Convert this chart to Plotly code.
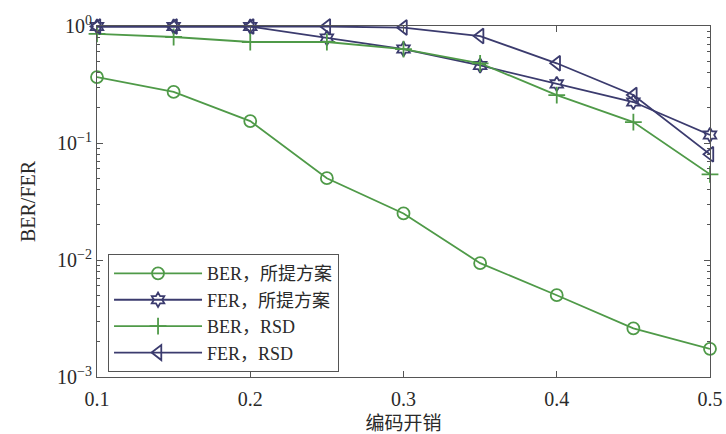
import plotly.graph_objects as go

# coding overhead (x axis)
overhead = [0.10, 0.15, 0.20, 0.25, 0.30, 0.35, 0.40, 0.45, 0.50]

# error rates per scheme
ber_proposed = [0.366, 0.273, 0.154, 0.050, 0.025, 0.0094, 0.0050, 0.0026, 0.00174]
fer_proposed = [0.99, 0.99, 0.99, 0.79, 0.635, 0.46, 0.32, 0.224, 0.117]
ber_rsd = [0.855, 0.805, 0.73, 0.73, 0.635, 0.48, 0.257, 0.151, 0.054]
fer_rsd = [0.99, 0.99, 0.99, 0.99, 0.97, 0.82, 0.48, 0.257, 0.080]

series_names = ["BER，所提方案", "FER，所提方案", "BER，RSD", "FER，RSD"]

y_tickvals = [1, 0.1, 0.01, 0.001]
y_ticktext = ["10<sup>0</sup>", "10<sup>−1</sup>", "10<sup>−2</sup>", "10<sup>−3</sup>"]
y_minor_vals = [m * d for d in (0.001, 0.01, 0.1) for m in range(2, 10)]
x_tickvals = [0.1, 0.2, 0.3, 0.4, 0.5]
x_ticktext = ["0.1", "0.2", "0.3", "0.4", "0.5"]

GREEN = "#4f9a48"
NAVY = "#3b3b6e"
TEXT = "#2a2a2a"
AXIS = "#555555"
FONT = "Liberation Serif, Noto Sans CJK SC, serif"

fig = go.Figure()
styles = [
    (ber_proposed, GREEN, "circle-open", 12),
    (fer_proposed, NAVY, "hexagram-open", 11),
    (ber_rsd, GREEN, "cross-thin-open", 12),
    (fer_rsd, NAVY, "triangle-left-open", 13),
]
for name, (vals, color, sym, size) in zip(series_names, styles):
    fig.add_trace(go.Scatter(
        x=overhead, y=vals, name=name, mode="lines+markers",
        line=dict(color=color, width=1.8),
        marker=dict(symbol=sym, size=size, color=color,
                    line=dict(color=color, width=1.8)),
        cliponaxis=False,
    ))

axis_common = dict(
    showline=True, linecolor=AXIS, linewidth=1.2, mirror="allticks",
    ticks="inside", tickcolor=AXIS, ticklen=6, showgrid=False, zeroline=False,
    tickfont=dict(family=FONT, size=20, color=TEXT), automargin=False,
)

fig.update_xaxes(
    range=[0.1, 0.5], tickvals=x_tickvals, ticktext=x_ticktext,
    ticklabelstandoff=4,
    title=dict(text="编码开销", font=dict(family=FONT, size=19, color=TEXT)),
    **axis_common,
)
fig.update_yaxes(
    type="log", range=[-3, 0], tickvals=y_tickvals, ticktext=y_ticktext,
    minor=dict(ticks="inside", ticklen=3, tickcolor=AXIS, showgrid=False,
               tickmode="array", tickvals=y_minor_vals),
    title=dict(text="BER/FER", font=dict(family=FONT, size=20, color=TEXT)),
    **axis_common,
)

fig.update_layout(
    width=726, height=434,
    margin=dict(l=97, r=16, t=26, b=57),
    paper_bgcolor="white", plot_bgcolor="white",
    font=dict(family=FONT, size=18, color=TEXT),
    legend=dict(
        x=0.018, y=0.35, xanchor="left", yanchor="top",
        bgcolor="white", bordercolor=AXIS, borderwidth=1,
        font=dict(family=FONT, size=18, color=TEXT),
        tracegroupgap=0, itemwidth=88,
    ),
)

fig.write_html("out.html")
